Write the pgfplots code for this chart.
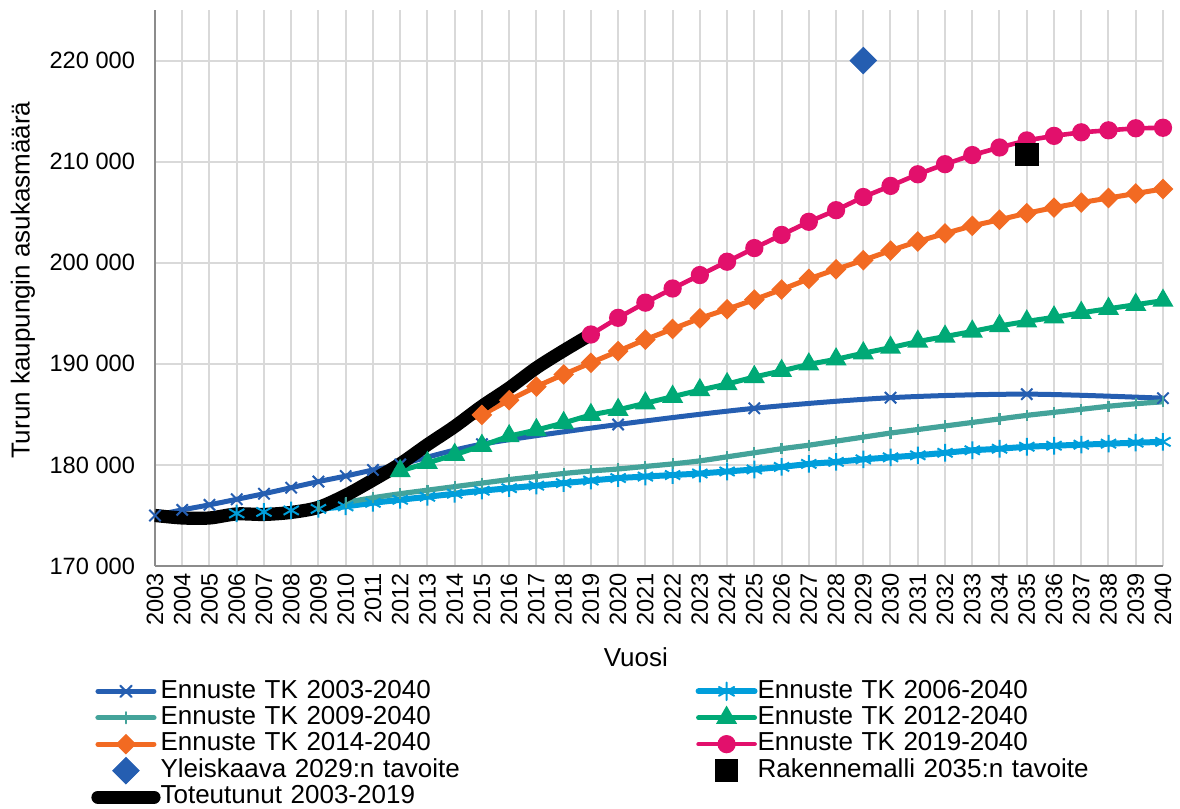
\documentclass[border=0pt]{standalone}
\usepackage{fontspec}
\setmainfont{Liberation Sans}
\usepackage{pgfplots}
\pgfplotsset{compat=1.18}

\definecolor{cA}{HTML}{255EB1}
\definecolor{cB}{HTML}{009EDB}
\definecolor{cC}{HTML}{44A39A}
\definecolor{cD}{HTML}{00A976}
\definecolor{cE}{HTML}{F26A22}
\definecolor{cF}{HTML}{E2106C}
\definecolor{gridc}{HTML}{D9D9D9}
\definecolor{axc}{HTML}{8C8C8C}

\begin{document}
\begin{tikzpicture}
\path[use as bounding box] (-77.5pt,-121.5pt) rectangle (512.5pt,283pt);
\begin{axis}[
    scale only axis,
    width=504pt, height=278pt,
    xmin=2003, xmax=2040,
    ymin=170000, ymax=225000,
    clip=false,
    axis x line*=bottom, axis y line*=left,
    axis line style={draw=axc, line width=1.1pt},
    major tick length=0pt,
    grid=major,
    major grid style={draw=gridc, line width=1pt},
    xtick={2003,...,2040},
    ytick={170000,180000,190000,200000,210000,220000},
    yticklabels={170 000,180 000,190 000,200 000,210 000,220 000},
    scaled ticks=false,
    /pgf/number format/assume math mode=true,
    /pgf/number format/1000 sep={},
    tick label style={font=\fontsize{11.8}{13}\selectfont},
    xticklabel style={rotate=90, anchor=east},
    yticklabel shift=6.5pt,
    xlabel={Vuosi},
    ylabel={Turun kaupungin asukasmäärä},
    every axis x label/.style={at={(axis description cs:0.477,-0.164)}, anchor=center, font=\fontsize{13}{15}\selectfont},
    every axis y label/.style={at={(axis description cs:-0.131,0.514)}, rotate=90, anchor=center, font=\fontsize{13}{15}\selectfont},
    legend columns=2,
    legend cell align=left,
    legend image code/.code={\draw[mark repeat=2,mark phase=2,line cap=round,#1] plot coordinates {(0pt,0pt) (14pt,0pt) (28pt,0pt)};},
    legend style={at={(axis description cs:-0.0635,-0.201)}, anchor=north west,
        draw=none, fill=none, inner sep=0pt, column sep=0pt, row sep=0pt,
        font=\fontsize{13}{15}\selectfont,
        nodes={inner xsep=0pt, inner ysep=0pt, xshift=-2pt, text height=10pt, text depth=3.2pt, text width=267.5pt, align=left}},
]
% Ennuste TK 2003-2040
\addplot[cA, line width=2.5pt, smooth, mark=x, mark size=4pt, mark options={line width=1pt}] coordinates {
 (2003,175000) (2004,175550) (2005,176050) (2006,176600) (2007,177150) (2008,177750)
 (2009,178350) (2010,178900) (2011,179500) (2012,180050) (2015,182050) (2020,184000)
 (2025,185600) (2030,186650) (2035,187000) (2040,186600)
};
\addlegendentry{Ennuste TK 2003-2040}
% Ennuste TK 2006-2040
\addplot[cB, line width=3pt, mark=asterisk, mark size=4.4pt, mark options={line width=1pt}] coordinates {
 (2006,175200) (2007,175350) (2008,175500) (2009,175650) (2010,175900) (2011,176250)
 (2012,176550) (2013,176850) (2014,177150) (2015,177450) (2016,177700) (2017,177950)
 (2018,178200) (2019,178450) (2020,178700) (2021,178850) (2022,179000) (2023,179150)
 (2024,179350) (2025,179550) (2026,179800) (2027,180100) (2028,180300) (2029,180550)
 (2030,180750) (2031,180950) (2032,181200) (2033,181450) (2034,181600) (2035,181800)
 (2036,181900) (2037,182000) (2038,182100) (2039,182200) (2040,182280)
};
\addlegendentry{Ennuste TK 2006-2040}
% Ennuste TK 2009-2040
\addplot[cC, line width=2.6pt, smooth, mark=|, mark size=2.8pt, mark options={line width=1.1pt}] coordinates {
 (2009,175900) (2010,176300) (2011,176750) (2012,177150) (2013,177500) (2014,177850)
 (2015,178200) (2016,178550) (2017,178850) (2018,179150) (2019,179400) (2020,179600)
 (2021,179850) (2022,180100) (2023,180400) (2024,180800) (2025,181200) (2026,181600)
 (2027,181950) (2028,182350) (2029,182750) (2030,183150) (2031,183500) (2032,183850)
 (2033,184200) (2034,184550) (2035,184900) (2036,185200) (2037,185500) (2038,185800)
 (2039,186050) (2040,186250)
};
\addlegendentry{Ennuste TK 2009-2040}
% Ennuste TK 2012-2040
\addplot[cD, line width=2.5pt, mark=triangle*, mark size=3.6pt] coordinates {
 (2012,179400) (2013,180200) (2014,181000) (2015,181900) (2016,182850) (2017,183450)
 (2018,184150) (2019,184950) (2020,185450) (2021,186100) (2022,186750) (2023,187400)
 (2024,188000) (2025,188700) (2026,189300) (2027,189950) (2028,190450) (2029,191050)
 (2030,191600) (2031,192200) (2032,192700) (2033,193200) (2034,193750) (2035,194200)
 (2036,194600) (2037,195050) (2038,195450) (2039,195850) (2040,196250)
};
\addlegendentry{Ennuste TK 2012-2040}
% Ennuste TK 2014-2040 (2014 point lies under the actual line)
\addplot[cE, line width=2.5pt, mark=square*, mark size=2.4pt, mark options={rotate=45},
    mark indices={2,...,27}, legend image post style={mark indices={2}}] coordinates {
 (2014,184000) (2015,184950) (2016,186400) (2017,187750) (2018,188950) (2019,190100)
 (2020,191250) (2021,192400) (2022,193450) (2023,194500) (2024,195400) (2025,196350)
 (2026,197350) (2027,198400) (2028,199350) (2029,200250) (2030,201200) (2031,202100)
 (2032,202900) (2033,203650) (2034,204250) (2035,204900) (2036,205450) (2037,205950)
 (2038,206400) (2039,206850) (2040,207300)
};
\addlegendentry{Ennuste TK 2014-2040}
% Ennuste TK 2019-2040
\addplot[cF, line width=2.3pt, mark=*, mark size=3.4pt] coordinates {
 (2019,192900) (2020,194550) (2021,196050) (2022,197450) (2023,198780) (2024,200100)
 (2025,201450) (2026,202750) (2027,204050) (2028,205200) (2029,206500) (2030,207600)
 (2031,208750) (2032,209750) (2033,210650) (2034,211400) (2035,212100) (2036,212550)
 (2037,212900) (2038,213100) (2039,213300) (2040,213350)
};
\addlegendentry{Ennuste TK 2019-2040}
% targets
\addplot[cA, only marks, mark=square*, mark size=4.7pt, mark options={rotate=45}] coordinates {(2029,220000)};
\addlegendentry{Yleiskaava 2029:n tavoite}
\addplot[black, only marks, mark=square*, mark size=5.6pt] coordinates {(2035,210700)};
\addlegendentry{Rakennemalli 2035:n tavoite}
% actual
\addplot[black, line width=6.6pt, smooth] coordinates {
 (2003,175000) (2004,174750) (2005,174750) (2006,175150) (2007,175100) (2008,175300)
 (2009,175800) (2010,177000) (2011,178500) (2012,180100) (2013,182000) (2014,183800)
 (2015,185800) (2016,187600) (2017,189600) (2018,191300) (2019,192900)
};
\addlegendentry{Toteutunut 2003-2019}
\end{axis}
\end{tikzpicture}
\end{document}
